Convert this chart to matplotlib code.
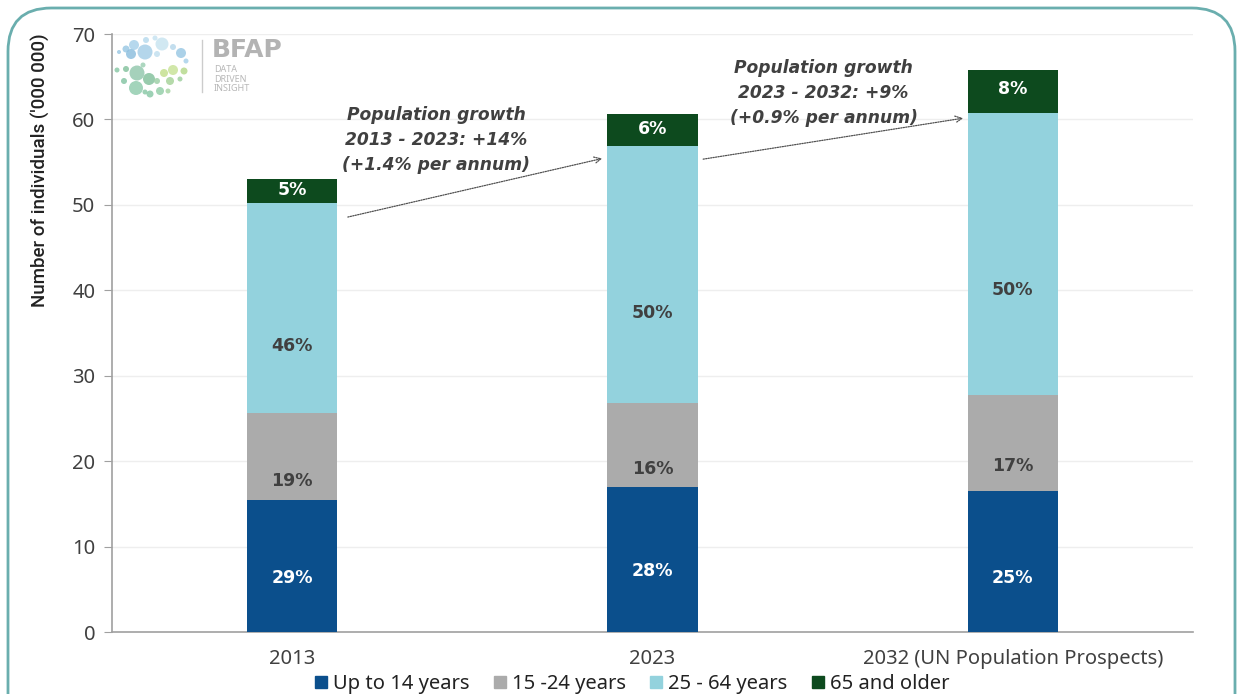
import matplotlib
matplotlib.use("Agg")
import matplotlib.pyplot as plt
from matplotlib.patches import FancyBboxPatch, Circle
import numpy as np

categories = ["2013", "2023", "2032 (UN Population Prospects)"]
series_names = ["Up to 14 years", "15 -24 years", "25 - 64 years", "65 and older"]
up_to_14 = [15.5, 17.0, 16.5]
age_15_24 = [10.1, 9.8, 11.3]
age_25_64 = [24.6, 30.1, 33.0]
age_65_plus = [2.8, 3.7, 5.0]
pct_labels = [["29%", "28%", "25%"],
              ["19%", "16%", "17%"],
              ["46%", "50%", "50%"],
              ["5%", "6%", "8%"]]
growth_texts = ["Population growth\n2013 - 2023: +14%\n(+1.4% per annum)",
                "Population growth\n2023 - 2032: +9%\n(+0.9% per annum)"]
y_ticks = [0, 10, 20, 30, 40, 50, 60, 70]

colors = ["#0b4f8c", "#ababab", "#93d2dd", "#0d4a1e"]
label_colors = ["white", "#404040", "#404040", "white"]
# relative vertical placement of the data labels inside each segment
label_frac = [[0.41, 0.42, 0.38],
              [0.22, 0.21, 0.26],
              [0.32, 0.35, 0.37],
              [0.55, 0.54, 0.56]]

plt.rcParams['font.family'] = ['Noto Sans', 'DejaVu Sans']
BOLD = ['DejaVu Sans']

fig = plt.figure(figsize=(12.4, 6.94), dpi=100)
W, H = 1240, 694
ax = fig.add_axes([112 / W, 1 - 632 / H, (1193 - 112) / W, (632 - 34) / H])

x = np.arange(len(categories))
series = [up_to_14, age_15_24, age_25_64, age_65_plus]
bottom = np.zeros(len(categories))
for i, (vals, c) in enumerate(zip(series, colors)):
    ax.bar(x, vals, 0.25, bottom=bottom, color=c, label=series_names[i], zorder=3)
    for j, v in enumerate(vals):
        yc = bottom[j] + v * label_frac[i][j]
        ax.text(x[j], yc, pct_labels[i][j], ha='center', va='center',
                color=label_colors[i], fontsize=12.5, fontweight='bold',
                family=BOLD, zorder=4)
    bottom = bottom + np.array(vals)

ax.set_xlim(-0.5, 2.5)
ax.set_ylim(0, 70)
ax.set_yticks(y_ticks)
ax.set_xticks(x)
ax.set_xticklabels(categories)
ax.tick_params(axis='y', length=6, color='#a0a0a0', labelsize=14.5, labelcolor='#404040', pad=6)
ax.tick_params(axis='x', length=0, labelsize=14.5, labelcolor='#404040', pad=12)
for s in ['top', 'right']:
    ax.spines[s].set_visible(False)
for s in ['left', 'bottom']:
    ax.spines[s].set_color('#a0a0a0')
    ax.spines[s].set_linewidth(1.2)
ax.yaxis.grid(True, color='#eeeeee', linewidth=1, zorder=0)
ax.set_axisbelow(True)

# annotations
ax.annotate("", xy=(0.868, 55.5), xytext=(0.147, 48.5),
            arrowprops=dict(arrowstyle='->', color='#505050', lw=0.9, linestyle=(0, (1, 1)),
                            mutation_scale=12), zorder=5)
ax.annotate("", xy=(1.87, 60.2), xytext=(1.133, 55.3),
            arrowprops=dict(arrowstyle='->', color='#505050', lw=0.9, linestyle=(0, (1, 1)),
                            mutation_scale=12), zorder=5)
ax.text(0.40, 57.6, growth_texts[0], ha='center', va='center', fontsize=12.3,
        fontweight='bold', fontstyle='italic', color='#404040', linespacing=1.5,
        family=BOLD)
ax.text(1.475, 63.05, growth_texts[1], ha='center', va='center', fontsize=12.3,
        fontweight='bold', fontstyle='italic', color='#404040', linespacing=1.5,
        family=BOLD)

# y label
fig.text(40 / W, 1 - 170 / H, "Number of individuals ('000 000)", rotation=90,
         ha='center', va='center', fontsize=13.5, color='#222222', fontweight='medium',
         family=['Roboto', 'DejaVu Sans'])

# legend
handles = [plt.Rectangle((0, 0), 1, 1, color=c) for c in colors]
fig.legend(handles, series_names, loc='center', bbox_to_anchor=(632 / W, 1 - 684 / H),
           ncol=4, frameon=False, fontsize=14.5, handlelength=0.6, handleheight=0.6,
           handletextpad=0.3, columnspacing=1.2, labelcolor='#222222')

# border
border = FancyBboxPatch((8 / W, -0.1), (1235 - 8) / W, (694 - 8) / H + 0.1,
                        boxstyle="round,pad=0,rounding_size=0.035",
                        transform=fig.transFigure, fill=False, edgecolor='#6aaeae',
                        linewidth=2, mutation_aspect=W / H)
fig.patches.append(border)

# logo
lax = fig.add_axes([112 / W, 1 - 100 / H, 180 / W, 68 / H])
lax.set_xlim(112, 292)
lax.set_ylim(100, 32)
lax.set_aspect('equal')
lax.axis('off')
dots = [
    (126, 49, 3.5, '#9cc9e4'), (134, 45, 5, '#a9d2ea'), (146, 40, 3, '#b9dbee'),
    (155, 38, 2.5, '#c7e3f1'), (162, 44, 6.5, '#c9e4f0'), (173, 47, 3, '#b9d9ec'),
    (181, 53, 5, '#9cc9e4'), (119, 52, 2, '#9cc9e4'), (131, 54, 5, '#8fc0df'),
    (145, 52, 7.5, '#a7cfe8'), (157, 54, 3, '#c3e0ef'), (186, 61, 2.5, '#a9d2ea'),
    (117, 70, 2.5, '#8cc9a8'), (126, 69, 3, '#87c4a0'), (137, 73, 7.5, '#95c9b0'),
    (149, 79, 6, '#86c29f'), (136, 88, 7, '#93cdb0'), (150, 94, 3.5, '#8cc9a8'),
    (160, 91, 4, '#95cfaa'), (164, 73, 4, '#c5e08f'), (173, 70, 5, '#c9e39a'),
    (184, 71, 3.5, '#b7da8e'), (170, 81, 4, '#a8d49b'), (180, 79, 2.5, '#a0d0a0'),
    (157, 81, 3, '#9ed0a8'), (124, 81, 3, '#88c6a6'), (143, 65, 2.5, '#9ed0b4'),
    (168, 91, 2.5, '#a8d4a5'), (145, 92, 2.5, '#8cc9a8'),
]
for (cx, cy, r, c) in dots:
    lax.add_patch(Circle((cx, cy), r, color=c, alpha=0.85, lw=0))
lax.plot([202, 202], [40, 92], color='#cccccc', lw=1)
fig.text(212 / W, 1 - 50 / H, "BFAP", fontsize=18, fontweight='bold', color='#b3b3b3',
         va='center', ha='left', family=BOLD)
fig.text(214 / W, 1 - 79 / H, "DATA\nDRIVEN\nINSIGHT", fontsize=6.5, color='#b8b8b8',
         va='center', ha='left', linespacing=1.05)

fig.savefig("out.png", dpi=100, facecolor='white')
